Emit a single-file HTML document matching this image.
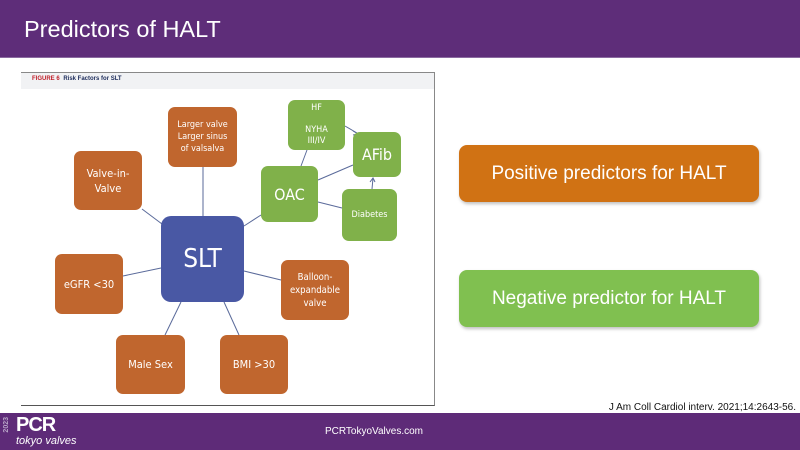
<!DOCTYPE html>
<html><head><meta charset="utf-8"><style>
*{margin:0;padding:0;box-sizing:border-box}
body{width:800px;height:450px;position:relative;background:#fff;font-family:"Liberation Sans",sans-serif;overflow:hidden}
.hdr{position:absolute;left:0;top:0;width:800px;height:58px;background:#5e2d79;border-bottom:1px solid #8a6aa0}
.hdr span{position:absolute;left:24px;top:16px;color:#fff;font-size:23.5px}
.ftr{position:absolute;left:0;top:413px;width:800px;height:37px;background:#5e2b78}
.b{position:absolute;border-radius:7px;color:#fff;display:flex;align-items:center;justify-content:center;text-align:center;font-family:"DejaVu Sans Condensed","Liberation Sans",sans-serif}
.o{background:#c0662e}.g{background:#80b14a}
.big{position:absolute;left:459px;width:300px;border-radius:8px;color:#fff;font-size:19px;display:flex;align-items:center;justify-content:center;box-shadow:1px 2px 3px rgba(0,0,0,.25)}
</style></head><body>
<div class="hdr"><span>Predictors of HALT</span></div>
<div style="position:absolute;left:21px;top:72px;width:414px;height:334px;border-top:1px solid #888;border-right:1px solid #888;border-bottom:1px solid #555"></div>
<div style="position:absolute;left:21px;top:73px;width:413px;height:16px;background:#f1f2f4"></div>
<div style="position:absolute;left:32px;top:76px;font-size:6px;font-weight:bold;color:#c0202a">FIGURE 6 <span style="color:#1c2b5a;margin-left:2px">Risk Factors for SLT</span></div>
<svg style="position:absolute;left:0;top:0" width="800" height="450">
<g stroke="#5a6a9a" stroke-width="1" fill="none">
<line x1="203" y1="167" x2="203" y2="216"/>
<line x1="142" y1="209" x2="162" y2="224"/>
<line x1="123" y1="276" x2="161" y2="268"/>
<line x1="244" y1="271" x2="281" y2="280"/>
<line x1="181" y1="302" x2="165" y2="335"/>
<line x1="224" y1="302" x2="239" y2="335"/>
<line x1="244" y1="226" x2="261" y2="215"/>
<line x1="307" y1="150" x2="301" y2="166"/>
<line x1="318" y1="180" x2="353" y2="165"/>
<line x1="318" y1="202" x2="342" y2="208"/>
<line x1="345" y1="126" x2="357" y2="133"/>
<line x1="372" y1="189" x2="373" y2="178"/>
<path d="M353 131 l5 3 l-5 1 M370 182 l3 -4 l2 4"/>
</g></svg>
<div class="b o" style="left:168px;top:107px;width:69px;height:60px;font-size:9px;line-height:12px">Larger valve<br>Larger sinus<br>of valsalva</div>
<div class="b o" style="left:74px;top:151px;width:68px;height:59px;font-size:11px;line-height:15px">Valve-in-<br>Valve</div>
<div class="b g" style="left:288px;top:100px;width:57px;height:50px;font-size:9px;line-height:11px">HF<br><br>NYHA<br>III/IV</div>
<div class="b g" style="left:353px;top:132px;width:48px;height:45px;font-size:16px">AFib</div>
<div class="b g" style="left:261px;top:166px;width:57px;height:56px;font-size:16px">OAC</div>
<div class="b g" style="left:342px;top:189px;width:55px;height:52px;font-size:9px">Diabetes</div>
<div class="b" style="left:161px;top:216px;width:83px;height:86px;background:#4958a4;border-radius:10px;font-size:26px">SLT</div>
<div class="b o" style="left:55px;top:254px;width:68px;height:60px;font-size:11px">eGFR &lt;30</div>
<div class="b o" style="left:281px;top:260px;width:68px;height:60px;font-size:9.5px;line-height:13px">Balloon-<br>expandable<br>valve</div>
<div class="b o" style="left:116px;top:335px;width:69px;height:59px;font-size:11px">Male Sex</div>
<div class="b o" style="left:220px;top:335px;width:68px;height:59px;font-size:11px">BMI &gt;30</div>
<div class="big" style="top:145px;height:57px;background:#d07214">Positive predictors for HALT</div>
<div class="big" style="top:270px;height:57px;background:#80c050">Negative predictor for HALT</div>
<div style="position:absolute;right:4px;top:402px;font-size:10px;color:#111">J Am Coll Cardiol interv. 2021;14:2643-56.</div>
<div class="ftr">
<div style="position:absolute;left:3px;top:4px;color:#b9a6c8;font-size:7px;font-weight:bold;writing-mode:vertical-rl;transform:rotate(180deg)">2023</div>
<div style="position:absolute;left:16px;top:1px;color:#fff;font-size:20px;font-weight:bold;letter-spacing:-1px">PCR</div>
<div style="position:absolute;left:16px;top:22px;color:#fff;font-size:11px;font-style:italic">tokyo valves</div>
<div style="position:absolute;left:325px;top:13px;color:#fff;font-size:10px">PCRTokyoValves.com</div>
</div>
</body></html>
